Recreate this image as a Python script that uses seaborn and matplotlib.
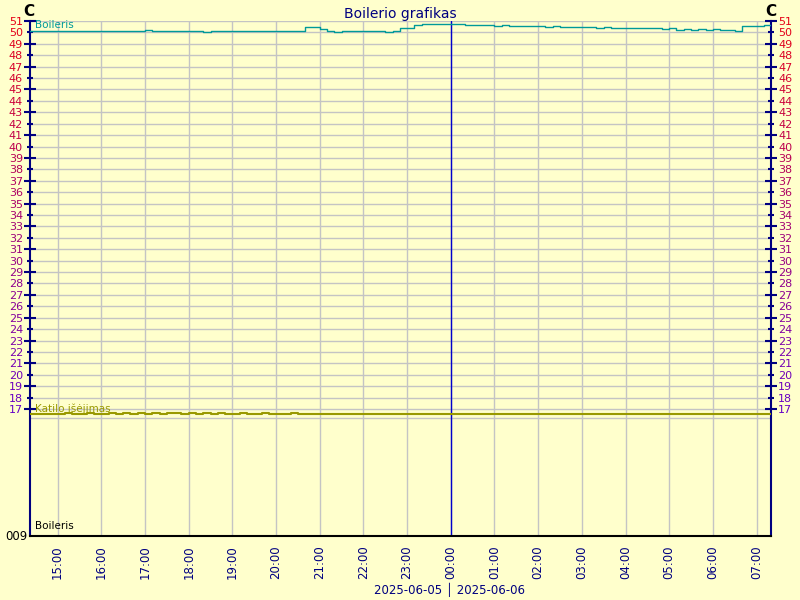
import matplotlib
matplotlib.use("Agg")
import matplotlib.pyplot as plt
import seaborn as sns
import numpy as np
import pandas as pd
from matplotlib.ticker import FixedLocator, FuncFormatter

# ---------------- data (10-minute samples from 2025-06-05 14:20) ----------------
start_time = "2025-06-05 14:20"
boileris = [
    50.10, 50.12, 50.10, 50.15, 50.10, 50.12, 50.10, 50.08, 50.12, 50.15,
    50.10, 50.12, 50.08, 50.10, 50.15, 50.10, 50.18, 50.12, 50.10, 50.08,
    50.10, 50.12, 50.08, 50.10, 50.05, 50.10, 50.08, 50.12, 50.10, 50.15,
    50.10, 50.12, 50.10, 50.08, 50.10, 50.12, 50.10, 50.10,
    50.45, 50.50, 50.30, 50.10, 50.05, 50.10, 50.15, 50.10, 50.10, 50.15,
    50.10, 50.05, 50.10, 50.35, 50.40, 50.65, 50.70, 50.70, 50.70, 50.72,
    50.70, 50.72, 50.68, 50.65, 50.65, 50.62, 50.60, 50.62, 50.58, 50.58,
    50.55, 50.55, 50.55, 50.50, 50.52, 50.50, 50.48, 50.50, 50.45, 50.45,
    50.42, 50.45, 50.42, 50.40, 50.40, 50.38, 50.40, 50.35, 50.38, 50.30,
    50.35, 50.25, 50.30, 50.22, 50.28, 50.20, 50.30, 50.22, 50.25, 50.15,
    50.55, 50.60, 50.60, 50.62, 50.60,
]
katilo = [
    16.60, 16.60, 16.60, 16.60, 16.60, 16.62, 16.60, 16.60, 16.62, 16.60,
    16.60, 16.62, 16.60, 16.62, 16.60, 16.62, 16.60, 16.62, 16.60, 16.62,
    16.62, 16.60, 16.62, 16.60, 16.62, 16.60, 16.62, 16.60, 16.60, 16.62,
    16.60, 16.60, 16.62, 16.60, 16.60, 16.60, 16.62, 16.60, 16.60, 16.60,
    16.60, 16.60, 16.60, 16.60, 16.60, 16.60, 16.60, 16.60, 16.60, 16.60,
    16.60, 16.60, 16.60, 16.60, 16.60, 16.60, 16.60, 16.60, 16.60, 16.60,
    16.60, 16.60, 16.60, 16.60, 16.60, 16.60, 16.60, 16.60, 16.60, 16.60,
    16.60, 16.60, 16.60, 16.60, 16.60, 16.60, 16.60, 16.60, 16.60, 16.60,
    16.60, 16.60, 16.60, 16.60, 16.60, 16.60, 16.60, 16.60, 16.60, 16.60,
    16.60, 16.60, 16.60, 16.60, 16.60, 16.60, 16.60, 16.60, 16.60, 16.60,
    16.60, 16.60, 16.60,
]
y_labels = list(range(17, 52))
hour_ticks = list(range(15, 32))
title = "Boilerio grafikas"
date_text = "2025-06-05 \u2502 2025-06-06"

# ---------------- build frame ----------------
times = pd.date_range(start_time, periods=len(boileris), freq="10min")
day0 = pd.Timestamp("2025-06-05 00:00")
hours = (times - day0).total_seconds() / 3600.0
df_b = pd.DataFrame({"h": hours, "v": boileris})
times_k = pd.date_range(start_time, periods=len(katilo), freq="10min")
df_k = pd.DataFrame({"h": (times_k - day0).total_seconds() / 3600.0, "v": katilo})

# ---------------- style ----------------
sns.set_theme(style="white")
plt.rcParams["font.family"] = ["DejaVu Sans"]
bg = "#FFFFCC"
navy = "#000080"
grid_c = "#C4C4C4"

fig = plt.figure(figsize=(8, 6), dpi=100, facecolor=bg)
ax = fig.add_axes([30 / 800, (600 - 536) / 600, 741 / 800, 515 / 600], facecolor=bg)

ax.set_xlim(14.367, 31.33)
ax.set_ylim(5.87, 51)

# grid
for y in y_labels:
    ax.axhline(y, color=grid_c, lw=1, zorder=0)
ax.axhline(16.2, color=grid_c, lw=1, zorder=0)
for h in hour_ticks:
    ax.axvline(h, color=grid_c, lw=1, zorder=0)
ax.axvline(24, color="#0000CC", lw=1, zorder=1)

sns.lineplot(data=df_b, x="h", y="v", ax=ax, color="#009999", lw=1.0,
             drawstyle="steps-post", zorder=3)
sns.lineplot(data=df_k, x="h", y="v", ax=ax, color="#999900", lw=1.5,
             drawstyle="steps-post", zorder=3)
ax.set_xlabel("")
ax.set_ylabel("")

# spines
ax.spines["left"].set_color(navy)
ax.spines["right"].set_color(navy)
ax.spines["left"].set_linewidth(1.5)
ax.spines["right"].set_linewidth(1.5)
ax.spines["bottom"].set_color("black")
ax.spines["bottom"].set_linewidth(1.5)
ax.spines["top"].set_visible(False)

# y ticks
odd = [v for v in y_labels if v % 2 == 1]
even = [v for v in y_labels if v % 2 == 0]
ax.yaxis.set_major_locator(FixedLocator(odd))
ax.yaxis.set_minor_locator(FixedLocator(even))
fmt = FuncFormatter(lambda v, p: f"{int(round(v))}")
ax.yaxis.set_major_formatter(fmt)
ax.yaxis.set_minor_formatter(fmt)
ax.tick_params(axis="y", which="major", direction="inout", length=8, width=1.5,
               color=navy, left=True, right=True, labelleft=True, labelright=True,
               labelsize=8, pad=1)
ax.tick_params(axis="y", which="minor", direction="inout", length=5, width=1.5,
               color=navy, left=True, right=True, labelleft=True, labelright=True,
               labelsize=8, pad=2.5)

def lab_color(v):
    t = (51 - v) / 34.0
    r = (230 + (100 - 230) * t) / 255
    g = 0
    b = (20 + (200 - 20) * t) / 255
    return (r, g, b)

for tick, v in zip(ax.yaxis.get_major_ticks(), odd):
    tick.label1.set_color(lab_color(v))
    tick.label2.set_color(lab_color(v))
for tick, v in zip(ax.yaxis.get_minor_ticks(), even):
    tick.label1.set_color(lab_color(v))
    tick.label2.set_color(lab_color(v))

# x ticks
ax.set_xticks(hour_ticks)
ax.set_xticklabels([f"{h % 24:02d}:00" for h in hour_ticks], rotation=90,
                   color=navy, fontsize=8.5)
ax.tick_params(axis="x", length=0, pad=7)

# texts
fig.text(35 / 800, 1 - 25 / 600, "Boileris", color="#009999",
         fontsize=7.5, va="center", ha="left")
fig.text(35 / 800, 1 - 409 / 600, "Katilo i\u0161\u0117jimas",
         color="#999900", fontsize=7.5, va="center", ha="left")
fig.text(35 / 800, 1 - 526 / 600, "Boileris", color="black", fontsize=7.5,
         va="center", ha="left")
fig.text(27 / 800, 1 - 536 / 600, "009", color="black", fontsize=8.5,
         va="center", ha="right")
fig.text(29 / 800, 1 - 12 / 600, "C", color="black", fontsize=11, fontweight="bold",
         va="center", ha="center")
fig.text(771 / 800, 1 - 12 / 600, "C", color="black", fontsize=11, fontweight="bold",
         va="center", ha="center")
fig.text(400 / 800, 1 - 14 / 600, title, color=navy, fontsize=10,
         va="center", ha="center")
fig.text(450 / 800, 1 - 590 / 600, date_text, color=navy, fontsize=8.5,
         va="center", ha="center")

fig.savefig("out.png", dpi=100, facecolor=bg)
